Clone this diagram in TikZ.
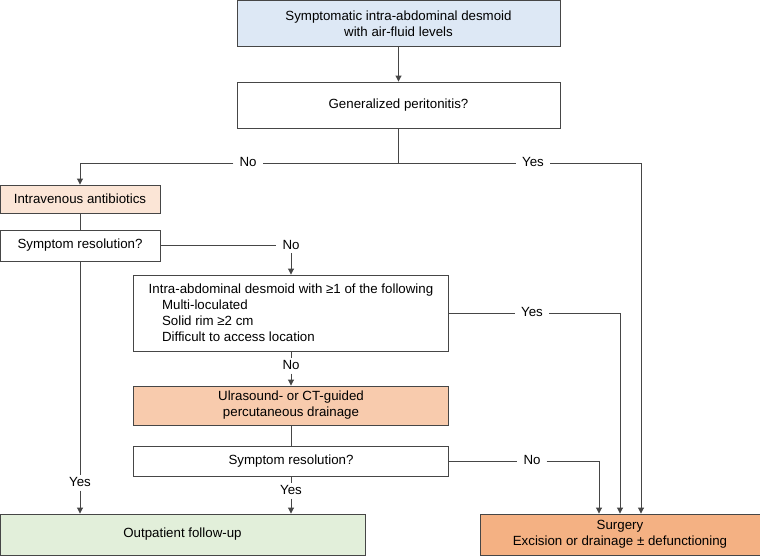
\documentclass[tikz,border=0pt]{standalone}
\usepackage{fontspec}
\setmainfont{Liberation Sans}
\usepackage{xcolor}
\usepackage{tikz}
\usetikzlibrary{arrows.meta,positioning}
\definecolor{linec}{RGB}{70,70,70}
\definecolor{startc}{RGB}{221,232,245}
\definecolor{ivc}{RGB}{251,229,214}
\definecolor{usc}{RGB}{248,203,173}
\definecolor{surgc}{RGB}{244,177,131}
\definecolor{outc}{RGB}{226,239,218}
\newcommand{\flowfont}{\fontsize{13.3}{16}\selectfont}

\begin{document}
\begin{tikzpicture}[
    x=1pt, y=-1pt,
    flowbox/.style={draw=linec, line width=0.9pt, inner sep=0, align=center, font=\flowfont},
    lbl/.style={inner xsep=6pt, inner ysep=3pt, text height=1.6ex, text depth=0.1ex, font=\flowfont},
    conn/.style={draw=linec, line width=0.9pt},
    arr/.style={conn, -{Triangle[length=6pt,width=6pt]}}]
\useasboundingbox (0,0) rectangle (760,555);

\node[flowbox, fill=startc, minimum width=323, minimum height=46] (start) at (398.5,23.5) {Symptomatic intra-abdominal desmoid\\with air-fluid levels};
\node[flowbox, minimum width=323, minimum height=46] (peri) at (398.5,105) {Generalized peritonitis?};
\node[flowbox, fill=ivc, minimum width=160, minimum height=28] (iv) at (80,199) {Intravenous antibiotics};
\node[flowbox, minimum width=160, minimum height=31] (res1) at (80,245.5) {Symptom resolution?};
\node[flowbox, align=left, minimum width=315, minimum height=76] (desmoid) at (291,313) {Intra-abdominal desmoid with ≥1 of the following\\
    \hspace*{1em}Multi-loculated\\
    \hspace*{1em}Solid rim ≥2 cm\\
    \hspace*{1em}Difficult to access location};
\node[flowbox, fill=usc, minimum width=315, minimum height=39] (us) at (291,405.5) {Ulrasound- or CT-guided\\percutaneous drainage};
\node[flowbox, minimum width=315, minimum height=30] (res2) at (291,461) {Symptom resolution?};
\node[flowbox, fill=outc, minimum width=365, minimum height=41] (out) at (182.5,534.5) {Outpatient follow-up};
\node[flowbox, fill=surgc, minimum width=280, minimum height=41] (surg) at (620,534.5) {Surgery\\Excision or drainage ± defunctioning};

% branch labels
\coordinate (split) at (398.5,163);
\node[lbl] (no1) at (248,163) {No};
\node[lbl] (yes1) at (533,163) {Yes};
\node[lbl] (no2) at (291,245.5) {No};
\node[lbl] (yes2) at (532,313) {Yes};
\node[lbl] (no3) at (291,366) {No};
\node[lbl] (no4) at (532,461) {No};
\node[lbl] (yes3) at (80,483) {Yes};
\node[lbl] (yes4) at (291,491) {Yes};

\draw[arr] (start) -- (peri);
\draw[conn] (peri) -- (split);
\draw[conn] (split) -- (no1);
\draw[arr] (no1) -| (iv.north);
\draw[conn] (split) -- (yes1);
\draw[arr] (yes1) -| ([xshift=21pt]surg.north);
\draw[conn] (iv) -- (res1);
\draw[conn] (res1) -- (no2);
\draw[arr] (no2) -- (desmoid);
\draw[conn] (desmoid) -- (yes2);
\draw[arr] (yes2) -| (surg.north);
\draw[conn] (desmoid) -- (no3);
\draw[arr] (no3) -- (us);
\draw[conn] (us) -- (res2);
\draw[conn] (res2) -- (no4);
\draw[arr] (no4) -| ([xshift=-21pt]surg.north);
\draw[conn] (res2) -- (yes4);
\draw[arr] (yes4) -- (yes4 |- out.north);
\draw[conn] (res1) -- (yes3);
\draw[arr] (yes3) -- (yes3 |- out.north);

\end{tikzpicture}
\end{document}
